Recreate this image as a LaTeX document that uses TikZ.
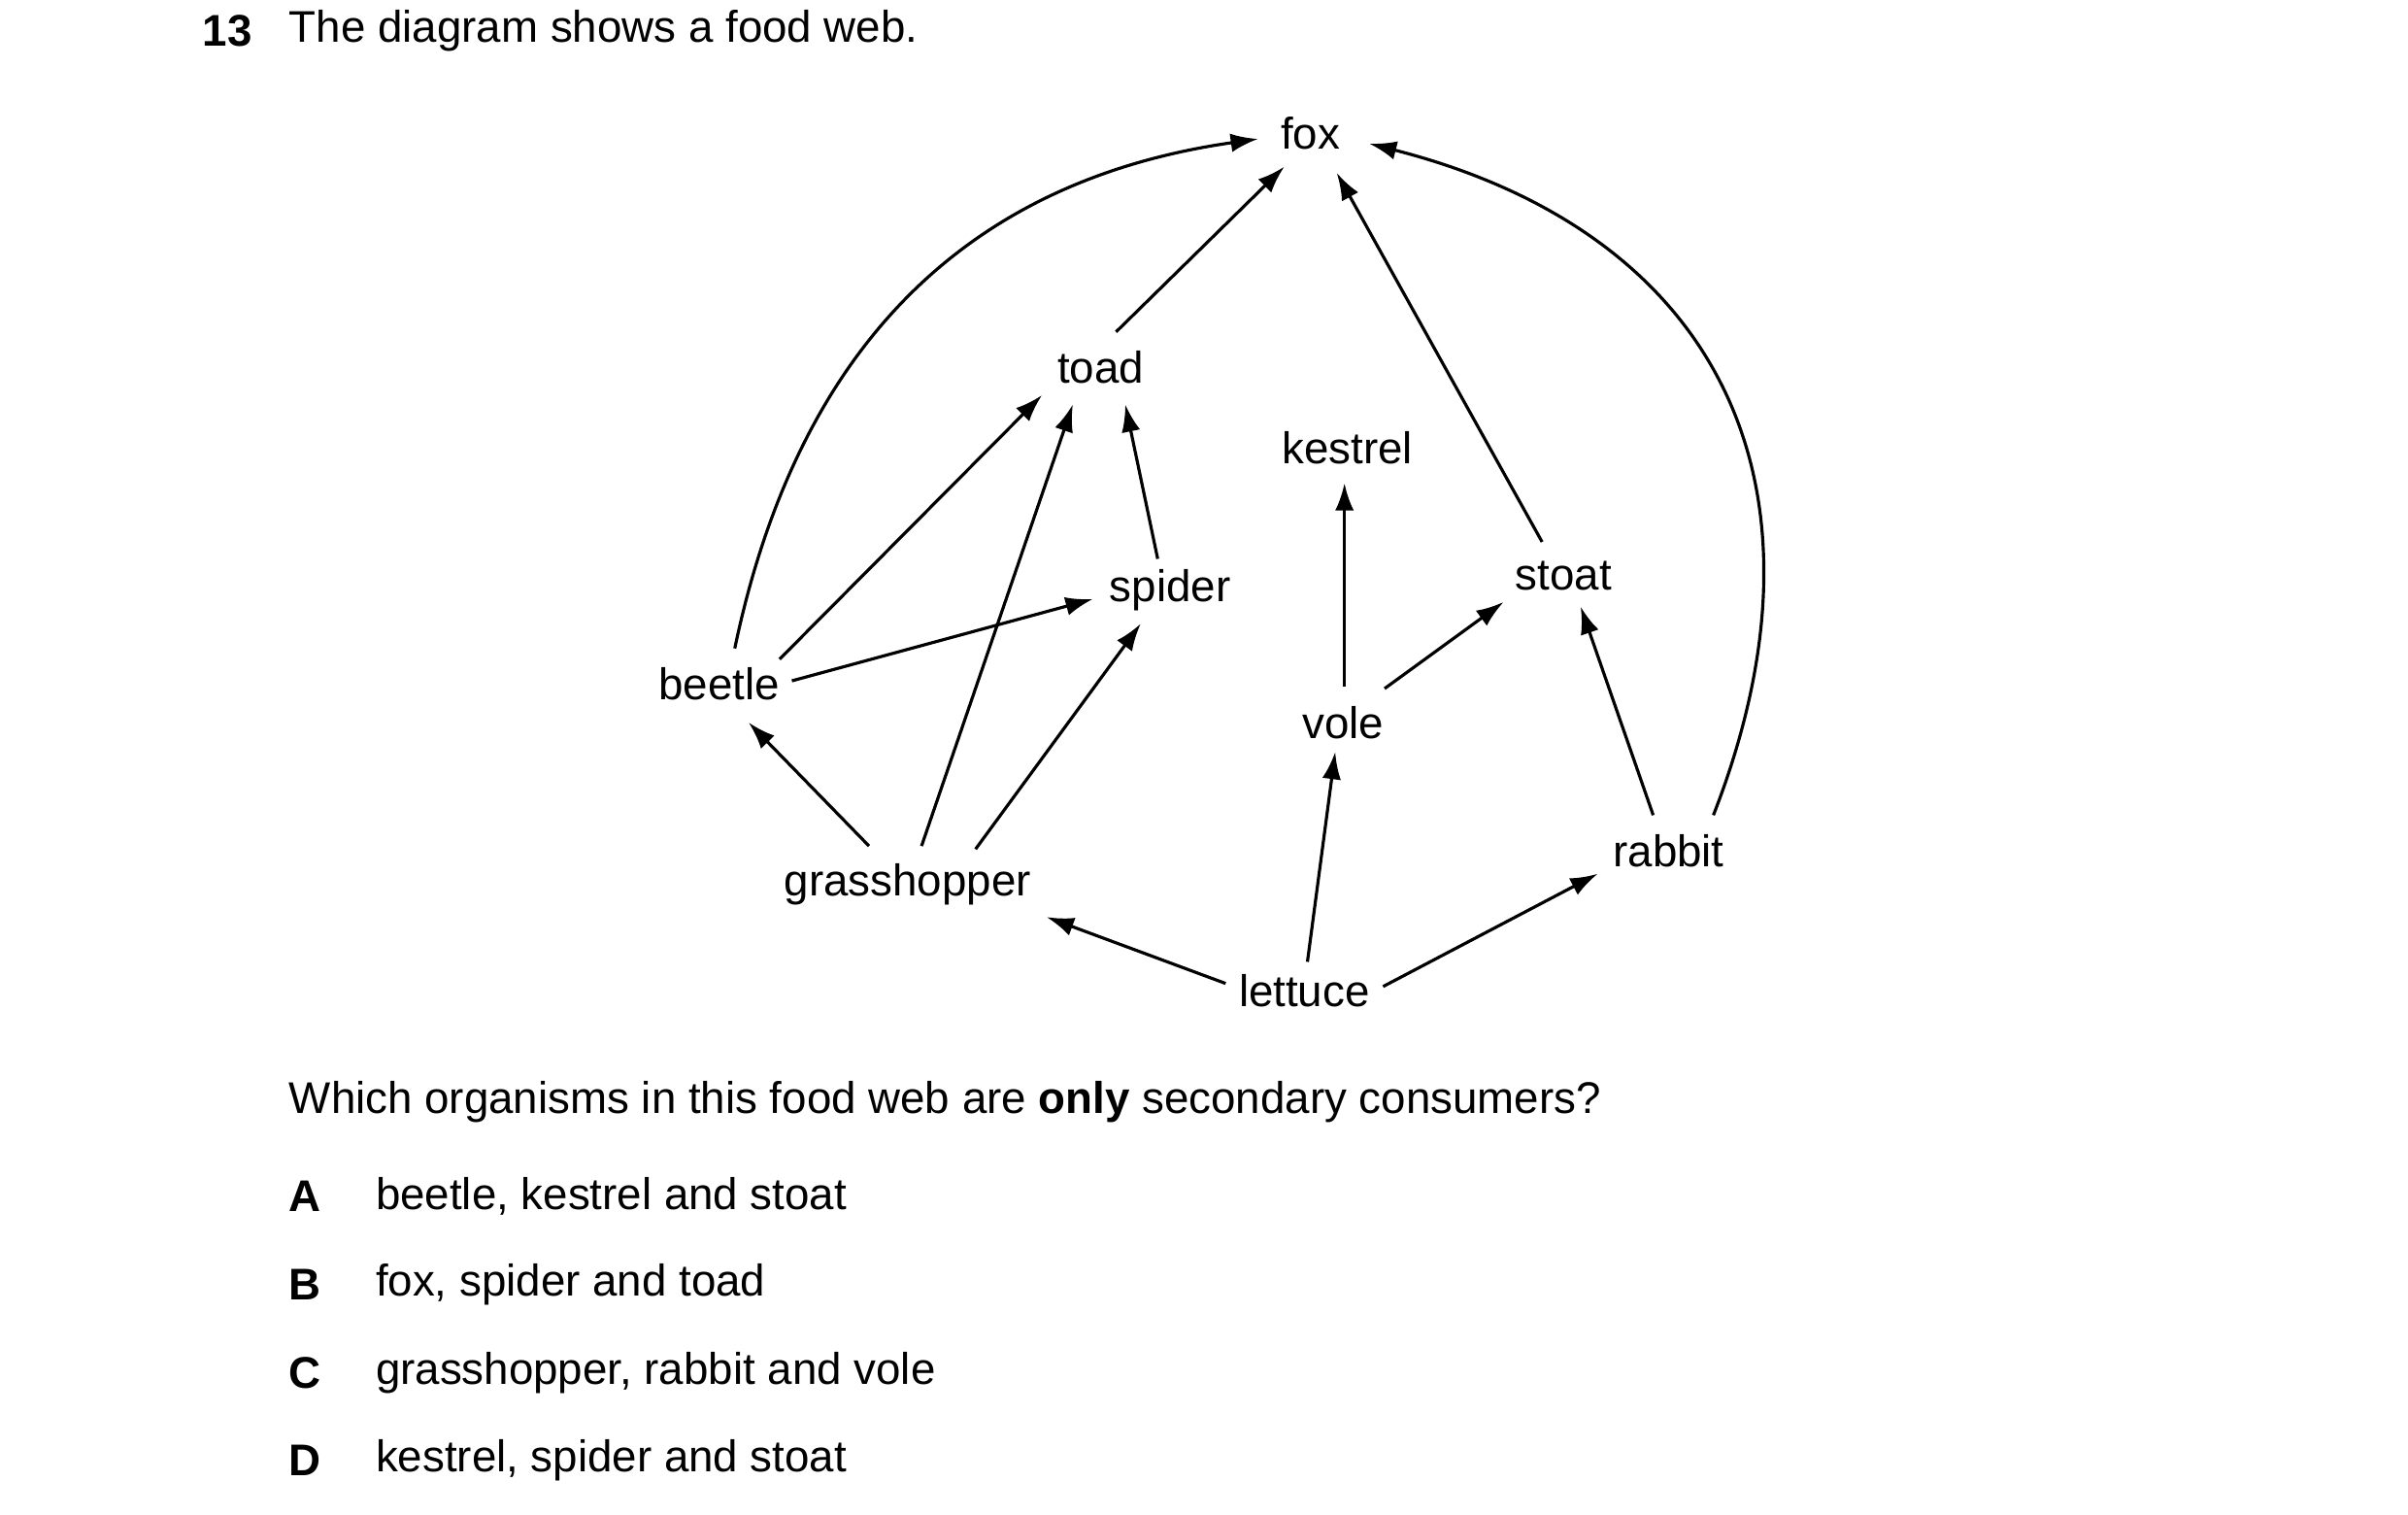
\documentclass[tikz,border=0pt]{standalone}
\usepackage{fontspec}
\setmainfont{Liberation Sans}
\usetikzlibrary{arrows.meta,calc}
\begin{document}
\begin{tikzpicture}[x=0.0159cm,y=-0.0159cm,
  lbl/.style={inner sep=0pt,font=\fontsize{13}{15}\selectfont},
  txt/.style={inner sep=0pt,anchor=west,font=\fontsize{13}{15}\selectfont},
  arr/.style={line width=0.9pt,-{Latex[length=8pt,width=5.5pt]}}]
\useasboundingbox (0,0) rectangle (1560,981);
\node[txt,font=\fontsize{13}{15}\selectfont\bfseries] (num) at (131,20) {13};
\node[txt] (title) at (187,20) {The diagram shows a food web.};
\node[lbl] (fox) at (849,86) {fox};
\node[lbl] (toad) at (713,238) {toad};
\node[lbl] (kestrel) at (873,290) {kestrel};
\node[lbl] (spider) at (758,382) {spider};
\node[lbl] (stoat) at (1013,373) {stoat};
\node[lbl] (beetle) at (466,443) {beetle};
\node[lbl] (vole) at (870,468) {vole};
\node[lbl] (grass) at (588,573) {grasshopper};
\node[lbl] (rabbit) at (1081,551) {rabbit};
\node[lbl] (lettuce) at (845,642) {lettuce};
\draw[arr] ($(toad)+(10,-23)$) -- ($(fox)+(-17,22)$);
\draw[arr] ($(beetle)+(39,-16)$) -- ($(toad)+(-38,18)$);
\draw[arr] ($(grass)+(9,-25)$) -- ($(toad)+(-18,24)$);
\draw[arr] ($(spider)+(-8,-20)$) -- ($(toad)+(16,24)$);
\draw[arr] ($(beetle)+(47,-2)$) -- ($(spider)+(-50,6)$);
\draw[arr] ($(grass)+(44,-23)$) -- ($(spider)+(-19,22)$);
\draw[arr] ($(grass)+(-25,-25)$) -- ($(beetle)+(19,25)$);
\draw[arr] ($(vole)+(1,-23)$) -- ($(kestrel)+(-2,23)$);
\draw[arr] ($(vole)+(27,-22)$) -- ($(stoat)+(-39,17)$);
\draw[arr] ($(stoat)+(-14,-22)$) -- ($(fox)+(17,26)$);
\draw[arr] ($(rabbit)+(-10,-23)$) -- ($(stoat)+(11,20)$);
\draw[arr] ($(lettuce)+(2,-19)$) -- ($(vole)+(-5,19)$);
\draw[arr] ($(lettuce)+(-51,-5)$) -- ($(grass)+(90,21)$);
\draw[arr] ($(lettuce)+(51,-3)$) -- ($(rabbit)+(-46,15)$);
\draw[arr] ($(beetle)+(10,-23)$) .. controls (520,210) and (640,115) .. ($(fox)+(-34,4)$);
\draw[arr] ($(rabbit)+(29,-23)$) .. controls (1195,310) and (1110,150) .. ($(fox)+(38,7)$);
\node[txt] (q) at (187,714) {Which organisms in this food web are \textbf{only} secondary consumers?};
\node[txt,font=\fontsize{13}{15}\selectfont\bfseries] (la) at (187,775) {A};
\node[txt] (ta) at (243,775) {beetle, kestrel and stoat};
\node[txt,font=\fontsize{13}{15}\selectfont\bfseries] (lb) at (187,832) {B};
\node[txt] (tb) at (243,832) {fox, spider and toad};
\node[txt,font=\fontsize{13}{15}\selectfont\bfseries] (lc) at (187,889) {C};
\node[txt] (tc) at (243,889) {grasshopper, rabbit and vole};
\node[txt,font=\fontsize{13}{15}\selectfont\bfseries] (ld) at (187,946) {D};
\node[txt] (td) at (243,946) {kestrel, spider and stoat};
\end{tikzpicture}
\end{document}
